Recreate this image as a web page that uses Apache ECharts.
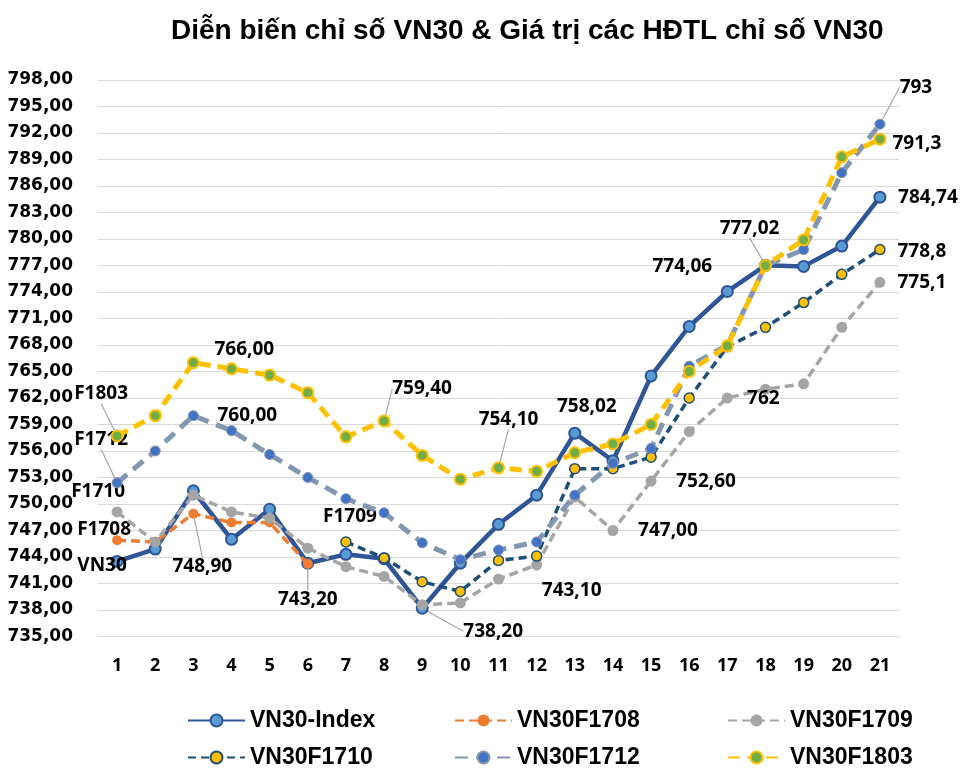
<!DOCTYPE html>
<html>
<head>
<meta charset="utf-8">
<script src="https://cdn.jsdelivr.net/npm/echarts@6/dist/echarts.min.js"></script>
<style>
html,body{margin:0;padding:0;background:#fff;}
#c{width:976px;height:777px;}
</style>
</head>
<body>
<div id="c"></div>
<script>
// ---- data ----
const categories = ['1','2','3','4','5','6','7','8','9','10','11','12','13','14','15','16','17','18','19','20','21'];
const vn30Index = [743.5, 744.9, 751.5, 746.0, 749.4, 743.3, 744.3, 743.8, 738.2, 743.3, 747.7, 751.0, 758.02, 754.9, 764.5, 770.1, 774.06, 777.02, 776.9, 779.2, 784.74];
const vn30F1708 = [745.9, 745.7, 748.9, 747.9, 747.9, 743.2, null, null, null, null, null, null, null, null, null, null, null, null, null, null, null];
const vn30F1709 = [749.1, 745.7, 751.0, 749.1, 748.4, 745.0, 742.9, 741.8, 738.6, 738.8, 741.5, 743.1, 750.8, 747.0, 752.6, 758.2, 762.0, 763.0, 763.6, 770.0, 775.1];
const vn30F1710 = [null, null, null, null, null, null, 745.7, 743.9, 741.2, 740.1, 743.6, 744.1, 754.0, 754.0, 755.3, 762.0, 767.8, 770.0, 772.8, 776.0, 778.8];
const vn30F1712 = [752.4, 756.0, 760.0, 758.3, 755.6, 753.0, 750.6, 749.0, 745.6, 743.7, 744.8, 745.7, 751.0, 754.6, 756.3, 765.6, 768.0, 777.0, 778.8, 787.5, 793.0];
const vn30F1803 = [757.7, 760.0, 766.0, 765.3, 764.6, 762.6, 757.6, 759.4, 755.5, 752.8, 754.1, 753.7, 755.8, 756.8, 759.0, 765.0, 767.9, 777.0, 779.9, 789.3, 791.3];
const seriesNames = ['VN30-Index', 'VN30F1708', 'VN30F1709', 'VN30F1710', 'VN30F1712', 'VN30F1803'];
const titleText = 'Diễn biến chỉ số VN30 & Giá trị các HĐTL chỉ số VN30';

// ---- annotations: [dataIndex, text, offsetX, offsetY, pointer] ----
const annotations = [
  [[0,'VN30',-15,4,false],[8,'738,20',71,23,true],[12,'758,02',12,-27,false],[16,'774,06',-45,-25,false],[17,'777,02',-16,-37,true],[20,'784,74',48,0,false]],
  [[0,'F1708',-13,-11,false],[2,'748,90',9,53,true],[5,'743,20',0,36,true]],
  [[0,'F1710',-19,-20,false],[11,'743,10',35,26,false],[13,'747,00',55,0,false],[14,'752,60',55,1,false],[16,'762',36,1,false],[20,'775,1',42,0,false]],
  [[6,'F1709',4,-25,false],[20,'778,8',42,2,false]],
  [[0,'F1712',-16,-43,true],[2,'760,00',54,0,false],[20,'793',36,-37,true]],
  [[0,'F1803',-16,-42,true],[2,'766,00',51,-13,false],[7,'759,40',38,-32,true],[10,'754,10',10,-48,true],[20,'791,3',37,4,false]]
];

const styles = [
  {color:'#2f5597', width:4.5, type:'solid', symFill:'#5b9bd5', symBorder:'#2f5597', symBW:2, size:11},
  {color:'#ed7d31', width:3.5, type:[9,5], symFill:'#ed7d31', symBorder:'#ed7d31', symBW:0, size:10},
  {color:'#a5a5a5', width:3.5, type:[9,5], symFill:'#a5a5a5', symBorder:'#a5a5a5', symBW:0, size:11},
  {color:'#1f4e79', width:3.5, type:[8,5], symFill:'#ffc000', symBorder:'#1f4e79', symBW:1.5, size:10},
  {color:'#8497b0', width:5, type:[13,8], symFill:'#4472c4', symBorder:'#8497b0', symBW:1, size:10},
  {color:'#ffc000', width:5, type:[12,7], symFill:'#70ad47', symBorder:'#ffc000', symBW:2, size:11}
];
const allData = [vn30Index, vn30F1708, vn30F1709, vn30F1710, vn30F1712, vn30F1803];

const labelFont = {fontFamily:'Open Sans', fontWeight:'bold', fontSize:19, color:'#000'};

const series = allData.map((arr, si) => {
  const st = styles[si];
  const ann = {};
  annotations[si].forEach(a => { ann[a[0]] = a; });
  const data = arr.map((v, i) => {
    const item = {value: v};
    if (ann[i]) {
      const a = ann[i];
      item.label = Object.assign({show:true, position:'top', formatter: a[1]}, labelFont);
      item.labelLine = {show: a[4], lineStyle:{color:'#a6a6a6', width:1.2}};
    } else {
      item.label = {show:false};
    }
    return item;
  });
  return {
    name: seriesNames[si],
    type: 'line',
    data: data,
    connectNulls: false,
    symbol: 'circle',
    symbolSize: st.size,
    lineStyle: {color: st.color, width: st.width, type: st.type, cap:'butt'},
    itemStyle: {color: st.symFill, borderColor: st.symBorder, borderWidth: st.symBW},
    emphasis: {disabled: true},
    animation: false,
    labelLine: {show:false, lineStyle:{color:'#a6a6a6', width:1.2}},
    labelLayout: function (p) {
      const a = ann[p.dataIndex];
      if (!a) return {};
      const cx = p.rect.x + p.rect.width / 2;
      const cy = p.rect.y + p.rect.height / 2;
      const lx = p.labelRect.x + p.labelRect.width / 2;
      const ly = p.labelRect.y + p.labelRect.height / 2;
      return {dx: cx + a[2] - lx, dy: cy + a[3] - ly};
    },
    z: 2 + si
  };
});

const legendText = {fontFamily:'Liberation Sans Narrow, Liberation Sans, Arial Narrow, sans-serif', fontWeight:'bold', fontSize:23, color:'#000'};
function legendItem(left, top, name) {
  return {
    data: [name], orient:'horizontal', left: left, top: top, itemGap: 4,
    itemWidth: 57, itemHeight: 15, textStyle: legendText, selectedMode: false, padding: 0
  };
}

const option = {
  backgroundColor: '#fff',
  animation: false,
  title: {
    text: titleText, left: 166, top: 12,
    textStyle: {fontFamily:'Liberation Sans Narrow, Liberation Sans, Arial Narrow, sans-serif', fontWeight:'bold', fontSize:28, color:'#000'}
  },
  grid: {left: 98, right: 77, top: 80, bottom: 140.5, containLabel: false},
  legend: [
    legendItem(187, 709, seriesNames[0]),
    legendItem(454, 709, seriesNames[1]),
    legendItem(727, 709, seriesNames[2]),
    legendItem(187, 746, seriesNames[3]),
    legendItem(454, 746, seriesNames[4]),
    legendItem(727, 746, seriesNames[5])
  ],
  xAxis: {
    type: 'category', data: categories, boundaryGap: true,
    axisLine: {show: true, lineStyle: {color:'#d9d9d9', width:1}},
    axisTick: {show: false},
    axisLabel: {margin: 20, fontFamily:'Open Sans', fontWeight:'bold', fontSize:18, color:'#000'}
  },
  yAxis: {
    type: 'value', min: 735, max: 798, interval: 3,
    axisLine: {show:false}, axisTick: {show:false},
    splitLine: {lineStyle: {color:'#d9d9d9', width:1}},
    axisLabel: {margin: 25, fontFamily:'DejaVu Sans', fontWeight:'bold', fontSize:17, color:'#000',
      formatter: v => v.toFixed(2).replace('.', ',')}
  },
  series: series
};

const chart = echarts.init(document.getElementById('c'), null, {renderer:'canvas'});
chart.setOption(option);
</script>
</body>
</html>
